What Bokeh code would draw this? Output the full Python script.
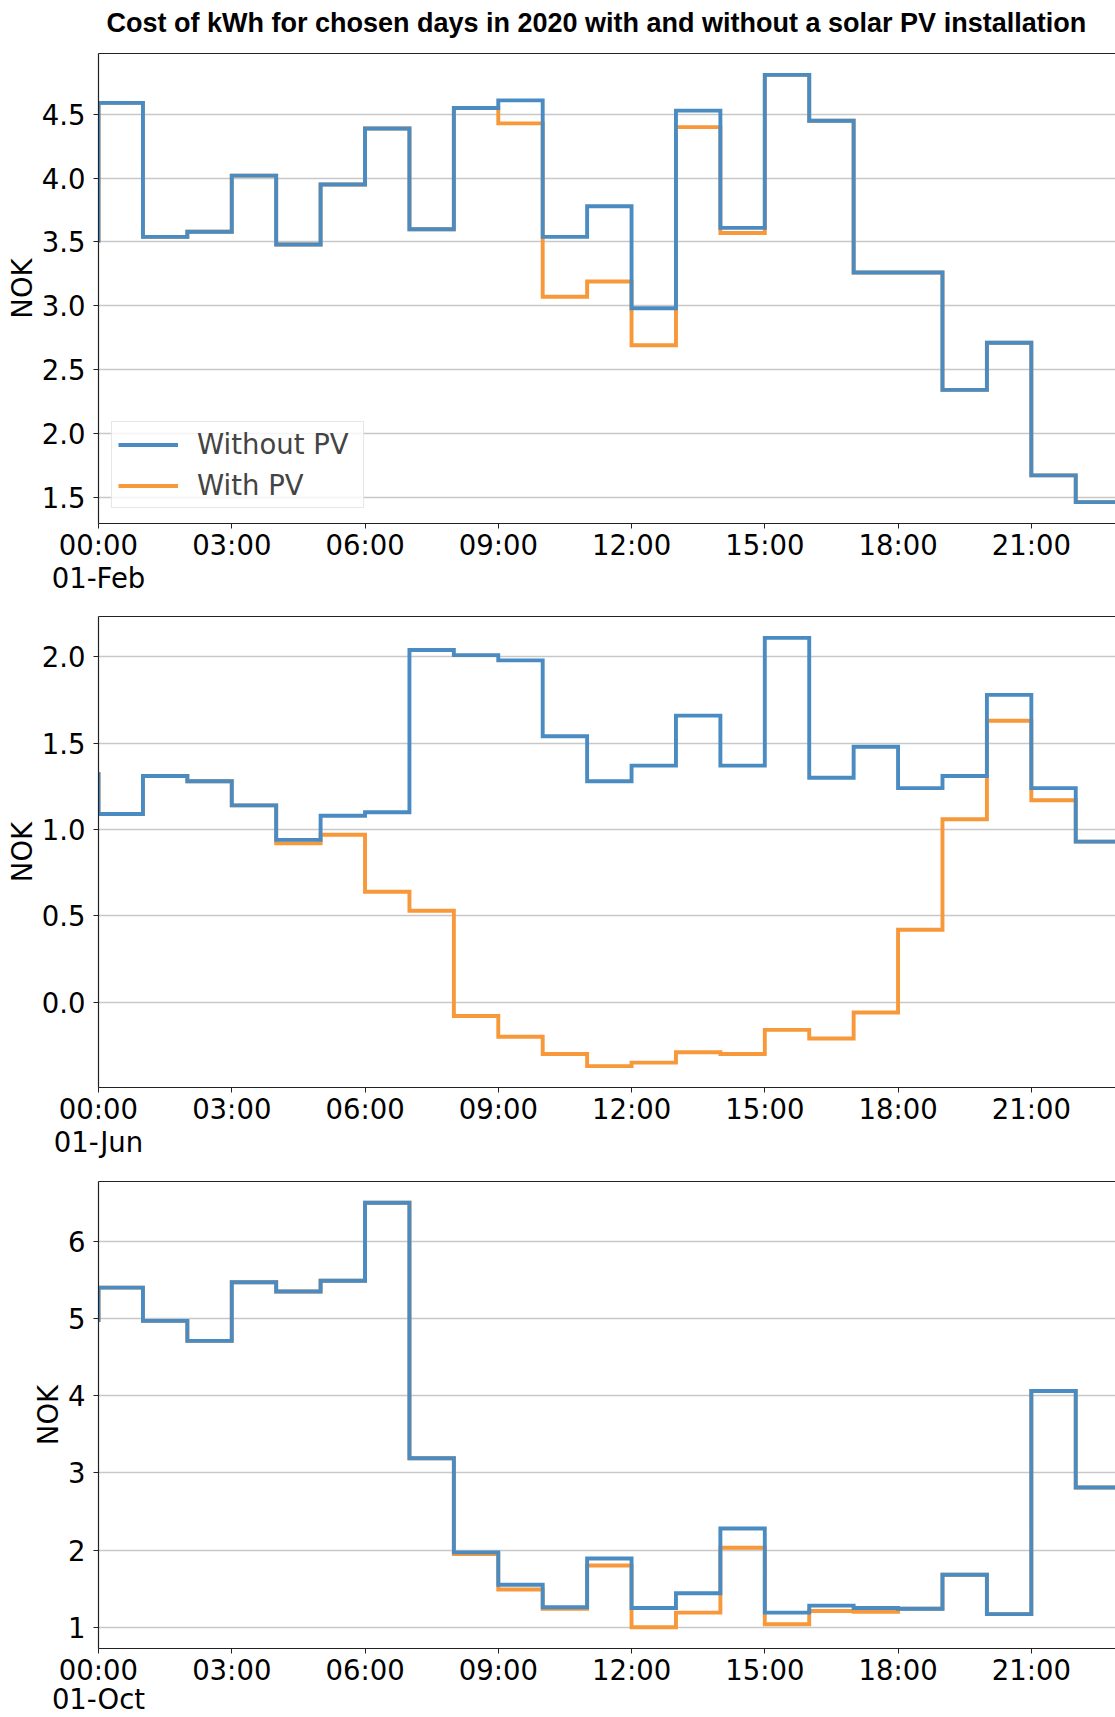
from bokeh.plotting import figure
from bokeh.models import (Range1d, FixedTicker, NumeralTickFormatter, LinearAxis,
                          Legend, LegendItem, Label)
from bokeh.layouts import column
from bokeh.embed import file_html
from bokeh.resources import INLINE

# ---------------- data ----------------
# hour -1 = last hour of previous day (only its step edge at 00:00 is visible),
# hour 23 = continuation of the last visible hour
hours = list(range(-1, 24))

feb_without = [3.51, 4.59, 3.54, 3.58, 4.02, 3.48, 3.95, 4.39, 3.60, 4.55, 4.61, 3.54, 3.78,
               2.98, 4.53, 3.61, 4.81, 4.45, 3.26, 3.26, 2.34, 2.71, 1.67, 1.46, 1.46]
feb_with = [3.51, 4.59, 3.54, 3.58, 4.02, 3.48, 3.95, 4.39, 3.60, 4.55, 4.43, 3.07, 3.19,
            2.69, 4.40, 3.57, 4.81, 4.45, 3.26, 3.26, 2.34, 2.71, 1.67, 1.46, 1.46]

jun_without = [1.32, 1.09, 1.31, 1.28, 1.14, 0.94, 1.08, 1.10, 2.04, 2.01, 1.98, 1.54, 1.28,
               1.37, 1.66, 1.37, 2.11, 1.30, 1.48, 1.24, 1.31, 1.78, 1.24, 0.93, 0.93]
jun_with = [1.32, 1.09, 1.31, 1.28, 1.14, 0.92, 0.97, 0.64, 0.53, -0.08, -0.20, -0.30, -0.37,
            -0.35, -0.29, -0.30, -0.16, -0.21, -0.06, 0.42, 1.06, 1.63, 1.17, 0.93, 0.93]

oct_without = [4.98, 5.40, 4.97, 4.71, 5.47, 5.35, 5.49, 6.50, 3.19, 1.97, 1.55, 1.26, 1.89,
               1.25, 1.44, 2.28, 1.19, 1.28, 1.25, 1.24, 1.68, 1.17, 4.06, 2.81, 2.81]
oct_with = [4.98, 5.40, 4.97, 4.71, 5.47, 5.35, 5.49, 6.50, 3.19, 1.95, 1.49, 1.24, 1.80,
            1.00, 1.19, 2.03, 1.04, 1.21, 1.20, 1.24, 1.68, 1.17, 4.06, 2.81, 2.81]

dates = ["01-Feb", "01-Jun", "01-Oct"]
tick_hours = [0, 3, 6, 9, 12, 15, 18, 21]
tick_labels = ["00:00", "03:00", "06:00", "09:00", "12:00", "15:00", "18:00", "21:00"]
yticks_feb = [1.5, 2.0, 2.5, 3.0, 3.5, 4.0, 4.5]
yticks_jun = [0.0, 0.5, 1.0, 1.5, 2.0]
yticks_oct = [1, 2, 3, 4, 5, 6]
series_names = ["Without PV", "With PV"]

title_text = "Cost of kWh for chosen days in 2020 with and without a solar PV installation"

# ---------------- style ----------------
BLUE = "#4a8bc2"
ORANGE = "#f7983a"
AXIS = "#222222"
FONT = "DejaVu Sans"
FS = "27.5px"
W = 1115
LEFT = 98
X_END = 22.895
TITLE_H = 44


def title_strip():
    # frame spans the same horizontal extent as the panels' frames; x in page pixels
    t = figure(width=W, height=TITLE_H, output_backend="svg", toolbar_location=None,
               x_range=Range1d(LEFT, W), y_range=Range1d(0, TITLE_H),
               x_axis_location=None, y_axis_location=None,
               min_border_left=LEFT, min_border_right=0, min_border_top=0,
               min_border_bottom=0)
    t.outline_line_color = None
    t.xgrid.visible = False
    t.ygrid.visible = False
    t.add_layout(Label(x=106, y=TITLE_H / 2, text=title_text, text_align="left",
                       text_baseline="middle", text_font="Liberation Sans",
                       text_font_size="27px", text_font_style="bold", text_color="black"))
    return t


def panel(without, with_pv, yticks, yfmt, date, height, top, bottom, date_standoff,
          show_legend=False):
    lo = min(min(without), min(with_pv))
    hi = max(max(without), max(with_pv))
    pad = 0.05 * (hi - lo)
    y0, y1 = lo - pad, hi + pad
    p = figure(width=W, height=height, output_backend="svg",
               toolbar_location=None, x_range=Range1d(0, X_END), y_range=Range1d(y0, y1),
               min_border_left=LEFT, min_border_right=0, min_border_top=top,
               min_border_bottom=bottom, x_axis_type=None)
    p.outline_line_color = None
    p.background_fill_color = "white"
    p.border_fill_color = "white"

    r_with = p.step(hours, with_pv, mode="after", line_color=ORANGE, line_width=3.9,
                    line_join="miter")
    r_without = p.step(hours, without, mode="after", line_color=BLUE, line_width=3.9,
                       line_join="miter")

    # bottom x axis: hours
    xa = LinearAxis(ticker=FixedTicker(ticks=tick_hours),
                    major_label_overrides={h: t for h, t in zip(tick_hours, tick_labels)})
    xa.major_label_text_font = FONT
    xa.major_label_text_font_size = FS
    xa.major_label_text_color = "black"
    xa.major_label_standoff = 0
    xa.major_tick_out = 5
    xa.major_tick_in = 0
    xa.minor_tick_line_color = None
    xa.axis_line_width = 1.2
    xa.axis_line_color = AXIS
    xa.major_tick_line_color = AXIS
    p.add_layout(xa, "below")

    # second line of the first tick label: the date
    da = LinearAxis(ticker=FixedTicker(ticks=[0]), major_label_overrides={0: date})
    da.major_label_text_font = FONT
    da.major_label_text_font_size = FS
    da.major_label_text_color = "black"
    da.major_label_standoff = date_standoff
    da.major_tick_out = 0
    da.major_tick_in = 0
    da.major_tick_line_color = None
    da.minor_tick_line_color = None
    da.axis_line_color = None
    p.add_layout(da, "below")

    # top frame line
    ta = LinearAxis(ticker=FixedTicker(ticks=[]))
    ta.major_label_text_font_size = "0px"
    ta.major_tick_line_color = None
    ta.minor_tick_line_color = None
    ta.major_tick_out = 0
    ta.major_label_standoff = 0
    ta.axis_line_width = 1.2
    ta.axis_line_color = AXIS
    p.add_layout(ta, "above")

    ya = p.yaxis[0]
    ya.ticker = FixedTicker(ticks=yticks)
    ya.formatter = NumeralTickFormatter(format=yfmt)
    ya.major_label_text_font = FONT
    ya.major_label_text_font_size = FS
    ya.major_label_text_color = "black"
    ya.major_label_standoff = 8
    ya.major_tick_out = 5
    ya.major_tick_in = 0
    ya.minor_tick_line_color = None
    ya.axis_line_width = 1.2
    ya.axis_line_color = AXIS
    ya.major_tick_line_color = AXIS
    ya.axis_label = "NOK"
    ya.axis_label_text_font = FONT
    ya.axis_label_text_font_size = FS
    ya.axis_label_text_font_style = "normal"
    ya.axis_label_text_color = "black"
    ya.axis_label_standoff = 1

    p.xgrid.grid_line_color = None
    p.ygrid.ticker = FixedTicker(ticks=yticks)
    p.ygrid.grid_line_color = "#c8c8c8"
    p.ygrid.grid_line_width = 1.4

    if show_legend:
        leg = Legend(items=[LegendItem(label=series_names[0], renderers=[r_without]),
                            LegendItem(label=series_names[1], renderers=[r_with])],
                     location=(13, 15))
        leg.label_text_font = FONT
        leg.label_text_font_size = FS
        leg.glyph_width = 60
        leg.glyph_height = 31
        leg.label_height = 31
        leg.label_width = 160
        leg.label_standoff = 19
        leg.spacing = 9
        leg.padding = 6
        leg.border_line_color = "#d0d0d0"
        leg.border_line_width = 1.3
        leg.background_fill_color = "white"
        leg.background_fill_alpha = 0.8
        p.add_layout(leg)
    return p


p0 = title_strip()
p1 = panel(feb_without, feb_with, yticks_feb, "0.0", dates[0], 553, 9, 74, -2,
           show_legend=True)
p2 = panel(jun_without, jun_with, yticks_jun, "0.0", dates[1], 564, 19, 74, -2)
p3 = panel(oct_without, oct_with, yticks_oct, "0", dates[2], 556, 20, 69, -6)

layout = column(p0, p1, p2, p3, spacing=0)
open("out.html", "w").write(file_html(layout, INLINE))
